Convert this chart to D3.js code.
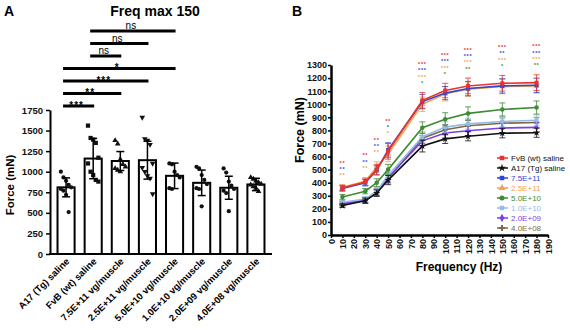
<!DOCTYPE html>
<html>
<head>
<meta charset="utf-8">
<script src="https://cdn.jsdelivr.net/npm/d3@7"></script>
<style>
  body { margin: 0; background: #fff; }
  text { font-family: "Liberation Sans", Arial, sans-serif; }
</style>
</head>
<body>
<script>
// Panel A: max force at 150 Hz per treatment group
var groups = ["A17 (Tg) saline", "FvB (wt) saline", "7.5E+11 vg/muscle", "2.5E+11 vg/muscle",
              "5.0E+10 vg/muscle", "1.0E+10 vg/muscle", "2.0E+09 vg/muscle", "4.0E+08 vg/muscle"];
var forceMean = [810, 1160, 1130, 1140, 950, 865, 805, 845];
var forceSD = [115, 245, 115, 230, 155, 155, 140, 75];
var groupPoints = [
  [1000, 930, 890, 840, 810, 790, 770, 720, 510],
  [1560, 1410, 1390, 1350, 1170, 1100, 1000, 960, 900, 880],
  [1380, 1340, 1150, 1090, 1060, 1040, 1020, 1000],
  [1660, 1400, 1380, 1330, 1100, 1050, 1000, 950, 920, 730],
  [1100, 1090, 1000, 960, 930, 800, 790],
  [1060, 1040, 960, 900, 850, 800, 790, 580],
  [1040, 990, 880, 830, 790, 770, 740, 520],
  [930, 910, 890, 870, 850, 840, 820, 800, 760]
];
var ticksA = [0, 250, 500, 750, 1000, 1250, 1500, 1750];
// comparison brackets: from group, to group, label
var bracketFrom = [1, 1, 1, 0, 0, 0, 0];
var bracketTo = [4, 3, 2, 4, 3, 2, 1];
var bracketText = ["ns", "ns", "ns", "*", "***", "**", "***"];

// Panel B: force-frequency curves
var freqs = [10, 30, 40, 50, 80, 100, 120, 150, 180];
var seriesNames = ["FvB (wt) saline", "A17 (Tg) saline", "7.5E+11", "2.5E+11", "5.0E+10", "1.0E+10", "2.0E+09", "4.0E+08"];
var fvbSaline = [360, 405, 500, 640, 1030, 1105, 1140, 1160, 1165];
var a17Saline = [225, 262, 320, 420, 680, 735, 755, 778, 782];
var dose75e11 = [355, 400, 495, 650, 1020, 1085, 1120, 1140, 1145];
var dose25e11 = [365, 410, 520, 620, 1000, 1080, 1115, 1135, 1140];
var dose50e10 = [290, 335, 400, 500, 820, 885, 930, 960, 975];
var dose10e10 = [250, 275, 335, 455, 750, 825, 850, 868, 878];
var dose20e09 = [240, 268, 328, 440, 720, 780, 797, 818, 823];
var dose40e08 = [235, 265, 325, 432, 740, 805, 835, 855, 860];
var fvbErr = [20, 25, 40, 60, 60, 55, 60, 60, 60];
var a17Err = [15, 20, 25, 35, 45, 35, 35, 35, 35];
var err75e11 = [20, 25, 35, 55, 55, 50, 55, 55, 55];
var err25e11 = [20, 30, 40, 60, 55, 55, 55, 55, 55];
var err50e10 = [20, 20, 30, 40, 45, 50, 50, 50, 50];
var err10e10 = [15, 20, 30, 35, 40, 40, 40, 40, 40];
var err20e09 = [15, 20, 25, 35, 40, 40, 40, 40, 40];
var err40e08 = [15, 20, 25, 35, 40, 40, 40, 40, 40];
var starsRed = ["**", "**", "**", "**", "***", "***", "***", "***", "***"];
var starsBlue = ["**", "**", "**", "*", "***", "***", "***", "**", "***"];
var starsOrange = ["**", "**", "**", "*", "***", "***", "***", "***", "***"];
var starsGreen = ["", "", "", "", "*", "*", "**", "*", "**"];

var colors = ["#e8322d", "#111111", "#2f45d6", "#f0a24e", "#3f8a34", "#93bde6", "#7b3fe4", "#7d6a45"];
var symbolsB = [d3.symbolSquare, d3.symbolStar, d3.symbolSquare, d3.symbolTriangle,
                d3.symbolCircle, d3.symbolSquare, d3.symbolDiamond, d3.symbolCross];

var svg = d3.select("body").append("svg")
    .attr("width", 570)
    .attr("height", 330);

// ---------- panel A ----------
var xA = d3.scaleBand().domain(groups).range([52.5, 269.5]).paddingInner(0.37).paddingOuter(0.185);
var yA = d3.scaleLinear().domain([0, 1750]).range([254, 110]);
var bw = xA.bandwidth();
function cx(i) { return xA(groups[i]) + bw / 2; }

svg.append("text").attr("x", 4).attr("y", 16).style("font-weight", "bold").style("font-size", "14px").text("A");
svg.append("text").attr("x", 155).attr("y", 16).attr("text-anchor", "middle")
    .style("font-weight", "bold").style("font-size", "14px").text("Freq max 150");

var axA = svg.append("g").attr("transform", "translate(50,0)")
    .call(d3.axisLeft(yA).tickValues(ticksA).tickFormat(d3.format("d")).tickSize(4).tickSizeOuter(0));
axA.select(".domain").attr("stroke-width", 2);
axA.selectAll(".tick line").attr("stroke-width", 1.5);
axA.selectAll("text").style("font-size", "9.5px").style("font-weight", "bold").attr("fill", "#111");

svg.append("line").attr("x1", 49).attr("x2", 272).attr("y1", 254).attr("y2", 254)
    .attr("stroke", "#000").attr("stroke-width", 2);

svg.append("text").attr("transform", "translate(14,185) rotate(-90)").attr("text-anchor", "middle")
    .style("font-weight", "bold").style("font-size", "11.5px").text("Force (mN)");

svg.selectAll(".barA").data(groups).enter().append("rect")
    .attr("x", function(d) { return xA(d); })
    .attr("y", function(d, i) { return yA(forceMean[i]); })
    .attr("width", bw)
    .attr("height", function(d, i) { return 254 - yA(forceMean[i]); })
    .attr("fill", "#fff").attr("stroke", "#000").attr("stroke-width", 2);

var symA = [d3.symbolCircle, d3.symbolSquare, d3.symbolTriangle, d3.symbolTriangle,
            d3.symbolCircle, d3.symbolCircle, d3.symbolCircle, d3.symbolTriangle];
groupPoints.forEach(function(pts, i) {
  svg.selectAll(".pt" + i).data(pts).enter().append("path")
      .attr("d", d3.symbol().type(symA[i]).size(i == 1 ? 18 : 14))
      .attr("transform", function(d, j) {
        var off = ((j % 5) - 2) * 2.6;
        return "translate(" + (cx(i) + off) + "," + yA(d) + ")" + (i == 3 ? " rotate(180)" : "");
      })
      .attr("fill", "#111");
});

groups.forEach(function(g, i) {
  var e = svg.append("g").attr("stroke", "#000").attr("stroke-width", 1.5);
  e.append("line").attr("x1", cx(i)).attr("x2", cx(i))
      .attr("y1", yA(forceMean[i] + forceSD[i])).attr("y2", yA(forceMean[i] - forceSD[i]));
  e.append("line").attr("x1", cx(i) - 4).attr("x2", cx(i) + 4)
      .attr("y1", yA(forceMean[i] + forceSD[i])).attr("y2", yA(forceMean[i] + forceSD[i]));
  e.append("line").attr("x1", cx(i) - 4).attr("x2", cx(i) + 4)
      .attr("y1", yA(forceMean[i] - forceSD[i])).attr("y2", yA(forceMean[i] - forceSD[i]));
});

svg.selectAll(".labA").data(groups).enter().append("text")
    .attr("transform", function(d, i) { return "translate(" + (cx(i) + 4) + ",262) rotate(-45)"; })
    .attr("text-anchor", "end")
    .style("font-weight", "bold").style("font-size", "9.5px")
    .text(function(d) { return d; });

bracketText.forEach(function(t, k) {
  var y = 31 + k * 12.5;
  var x1 = cx(bracketFrom[k]) - 3, x2 = cx(bracketTo[k]) + 1;
  svg.append("line").attr("x1", x1).attr("x2", x2).attr("y1", y).attr("y2", y)
      .attr("stroke", "#000").attr("stroke-width", 3);
  var isNs = t == "ns";
  svg.append("text").attr("x", (x1 + x2) / 2 - 2).attr("y", isNs ? y - 2 : y + 2.5)
      .attr("text-anchor", "middle")
      .style("font-size", isNs ? "10px" : "10px")
      .style("font-weight", isNs ? "normal" : "bold")
      .style("letter-spacing", isNs ? "0px" : "1px")
      .text(t);
});

// ---------- panel B ----------
var xB = d3.scaleLinear().domain([0, 190]).range([331, 548]);
var yB = d3.scaleLinear().domain([0, 1300]).range([235, 65]);
var seriesVals = [fvbSaline, a17Saline, dose75e11, dose25e11, dose50e10, dose10e10, dose20e09, dose40e08];
var seriesErr = [fvbErr, a17Err, err75e11, err25e11, err50e10, err10e10, err20e09, err40e08];

svg.append("text").attr("x", 292).attr("y", 16).style("font-weight", "bold").style("font-size", "14px").text("B");

var axBy = svg.append("g").attr("transform", "translate(331,0)")
    .call(d3.axisLeft(yB).tickValues(d3.range(0, 1301, 100)).tickFormat(d3.format("d")).tickSize(3).tickSizeOuter(0));
axBy.select(".domain").attr("stroke-width", 2.5);
axBy.selectAll(".tick line").attr("stroke-width", 1.5);
axBy.selectAll("text").style("font-size", "9px").style("font-weight", "bold").attr("fill", "#111").attr("x", -4);

var axBx = svg.append("g").attr("transform", "translate(0,235)")
    .call(d3.axisBottom(xB).tickValues(d3.range(0, 191, 10)).tickFormat(d3.format("d")).tickSize(3).tickSizeOuter(0));
axBx.select(".domain").attr("stroke-width", 2.5);
axBx.selectAll(".tick line").attr("stroke-width", 1.5);
axBx.selectAll("text")
    .attr("transform", "rotate(-90)")
    .attr("x", -4).attr("y", 0).attr("dy", "0.35em")
    .style("text-anchor", "end")
    .style("font-size", "9px").style("font-weight", "bold").attr("fill", "#111");

svg.append("text").attr("x", 459).attr("y", 271).attr("text-anchor", "middle")
    .style("font-weight", "bold").style("font-size", "12px").text("Frequency (Hz)");
svg.append("text").attr("transform", "translate(304,130) rotate(-90)").attr("text-anchor", "middle")
    .style("font-weight", "bold").style("font-size", "12.5px").text("Force (mN)");

var line = d3.line()
    .x(function(d, i) { return xB(freqs[i]); })
    .y(function(d) { return yB(d); });

// draw lower curves first so the saline controls sit on top
var drawOrder = [7, 6, 5, 4, 1, 3, 2, 0];
drawOrder.forEach(function(s) {
  var g = svg.append("g");
  var col = colors[s];
  seriesVals[s].forEach(function(v, i) {
    var e = seriesErr[s][i], x = xB(freqs[i]);
    g.append("line").attr("x1", x).attr("x2", x).attr("y1", yB(v + e)).attr("y2", yB(v - e))
        .attr("stroke", col).attr("stroke-width", 1).attr("opacity", 0.8);
    [v + e, v - e].forEach(function(c) {
      g.append("line").attr("x1", x - 3).attr("x2", x + 3).attr("y1", yB(c)).attr("y2", yB(c))
          .attr("stroke", col).attr("stroke-width", 1).attr("opacity", 0.8);
    });
  });
  g.append("path").datum(seriesVals[s]).attr("d", line)
      .attr("fill", "none").attr("stroke", col).attr("stroke-width", 1.6);
  g.selectAll("path.m").data(seriesVals[s]).enter().append("path")
      .attr("class", "m")
      .attr("d", d3.symbol().type(symbolsB[s]).size(16))
      .attr("transform", function(d, i) { return "translate(" + xB(freqs[i]) + "," + yB(d) + ")"; })
      .attr("fill", col);
});

// significance stars above each frequency
var starRows = [starsRed, starsBlue, starsOrange, starsGreen];
var starColors = [colors[0], colors[2], colors[3], colors[4]];
freqs.forEach(function(f, i) {
  var top = d3.max(seriesVals, function(s, k) { return s[i] + seriesErr[k][i]; });
  var y = yB(top) - 10;
  for (var r = starRows.length - 1; r >= 0; r--) {
    var t = starRows[r][i];
    if (!t) continue;
    svg.append("text").attr("x", xB(f)).attr("y", y + 2.5)
        .attr("text-anchor", "middle")
        .style("font-size", "5.5px").style("font-weight", "bold").style("letter-spacing", "0.7px")
        .attr("fill", starColors[r]).text(t);
    y -= 6.3;
  }
});

// legend
var leg = svg.append("g");
seriesNames.forEach(function(n, i) {
  var y = 158 + i * 10;
  leg.append("line").attr("x1", 497).attr("x2", 508).attr("y1", y).attr("y2", y)
      .attr("stroke", colors[i]).attr("stroke-width", 1.5);
  leg.append("path").attr("d", d3.symbol().type(symbolsB[i]).size(20))
      .attr("transform", "translate(502," + y + ")").attr("fill", colors[i]);
  leg.append("text").attr("x", 511).attr("y", y + 3)
      .style("font-size", "8px")
      .attr("fill", i < 2 ? "#111" : colors[i])
      .text(n);
});
</script>
</body>
</html>
